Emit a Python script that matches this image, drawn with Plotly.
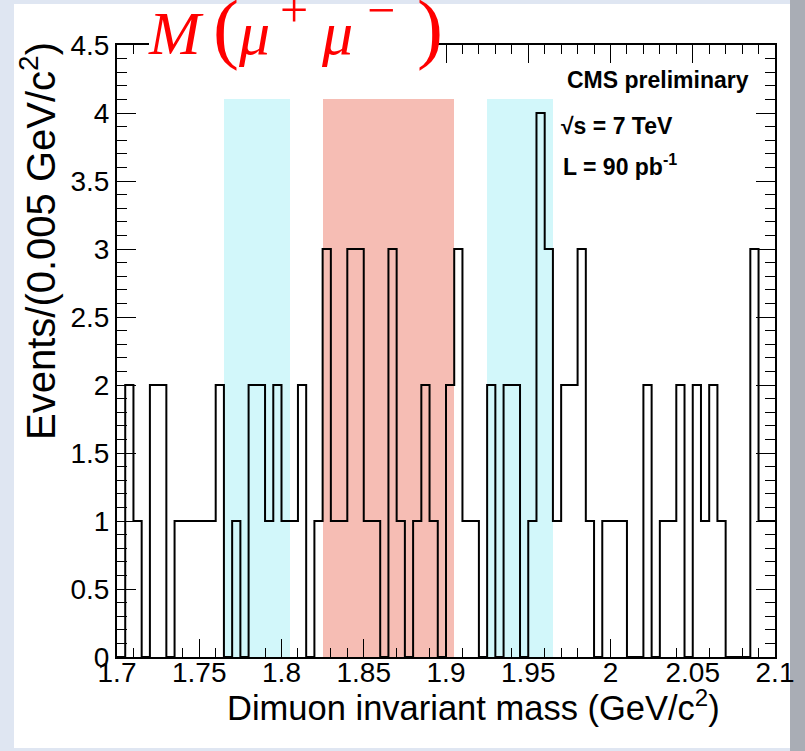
import plotly.graph_objects as go

# ---------------- data ----------------
x_min, x_max, bin_width = 1.7, 2.1, 0.005
counts = [0, 2, 1, 0, 2, 2, 0, 1, 1, 1,
          1, 1, 2, 0, 1, 0, 2, 2, 1, 2,
          1, 1, 2, 0, 1, 3, 1, 1, 3, 3,
          1, 1, 0, 3, 1, 0, 1, 2, 1, 0,
          2, 3, 1, 1, 0, 2, 0, 2, 2, 0,
          1, 4, 3, 1, 2, 2, 3, 1, 0, 1,
          1, 1, 0, 0, 2, 0, 1, 1, 2, 0,
          2, 1, 2, 1, 0, 0, 0, 3, 1, 1]

# sideband / signal windows (GeV/c^2)
band_lo = [1.765, 1.825, 1.925]
band_hi = [1.805, 1.905, 1.965]
band_kind = ["side", "signal", "side"]
band_height = 4.1

x_tick_vals = [1.7, 1.75, 1.8, 1.85, 1.9, 1.95, 2.0, 2.05, 2.1]
x_tick_text = ["1.7", "1.75", "1.8", "1.85", "1.9", "1.95", "2", "2.05", "2.1"]
y_tick_vals = [0, 0.5, 1, 1.5, 2, 2.5, 3, 3.5, 4, 4.5]
y_tick_text = ["0", "0.5", "1", "1.5", "2", "2.5", "3", "3.5", "4", "4.5"]

# ---------------- layout geometry (pixels) ----------------
W, H = 805, 751
L, R, T, B = 117, 775, 45, 657          # plot frame edges in px


def px(xp):
    return (xp - L) / (R - L)


def py(yp):
    return (B - yp) / (B - T)


edges = [x_min + i * bin_width for i in range(len(counts) + 1)]
step_x = edges
step_y = counts + [counts[-1]]

band_colors = {"side": "#d2f7fa", "signal": "#f6bdb4"}

fig = go.Figure()

for lo, hi, kind in zip(band_lo, band_hi, band_kind):
    fig.add_trace(go.Bar(
        x=[(lo + hi) / 2], y=[band_height], width=[hi - lo],
        marker=dict(color=band_colors[kind], line=dict(width=0)),
        showlegend=False, hoverinfo="skip"))

fig.add_trace(go.Scatter(
    x=step_x, y=step_y, mode="lines", line=dict(color="black", width=2, shape="hv"),
    showlegend=False, hoverinfo="skip", cliponaxis=True))

sans = "Liberation Sans, Arial, Helvetica, sans-serif"
serif = "Liberation Serif, serif"

fig.update_layout(
    width=W, height=H,
    margin=dict(l=L, r=W - R, t=T, b=H - B, pad=0),
    paper_bgcolor="#dfe6f2",
    plot_bgcolor="white",
    barmode="overlay",
    bargap=0,
    font=dict(family=sans, color="black"),
    xaxis=dict(
        range=[x_min, x_max], showgrid=False, zeroline=False,
        showline=True, linecolor="black", linewidth=2, mirror="ticks",
        ticks="inside", ticklen=18, tickwidth=1.2, tickcolor="black",
        tickmode="array", tickvals=x_tick_vals, ticktext=x_tick_text,
        tickfont=dict(size=28, family=sans),
        ticklabelstandoff=-11,
        minor=dict(tickmode="linear", tick0=x_min, dtick=0.01, ticks="inside",
                   ticklen=9, tickwidth=1.2, tickcolor="black", showgrid=False),
    ),
    yaxis=dict(
        range=[0, 4.5], showgrid=False, zeroline=False,
        showline=True, linecolor="black", linewidth=2, mirror="ticks",
        ticks="inside", ticklen=19, tickwidth=1.2, tickcolor="black",
        tickmode="array", tickvals=y_tick_vals, ticktext=y_tick_text,
        tickfont=dict(size=28, family=sans),
        ticklabelstandoff=0,
        minor=dict(tickmode="linear", tick0=0, dtick=0.1, ticks="inside",
                   ticklen=10, tickwidth=1.2, tickcolor="black", showgrid=False),
    ),
)

# page panel (white slide area) and grey right edge
fig.add_shape(type="rect", xref="paper", yref="paper", layer="below",
              x0=px(14), x1=px(790), y0=py(748), y1=py(4),
              fillcolor="white", line=dict(width=0))
fig.add_shape(type="rect", xref="paper", yref="paper", layer="below",
              x0=px(790), x1=px(W), y0=py(H), y1=py(0),
              fillcolor="#a9adb5", line=dict(width=0))
# white patch hiding the top frame behind the title
fig.add_shape(type="rect", xref="paper", yref="paper", layer="above",
              x0=px(149), x1=px(436), y0=py(68), y1=py(5),
              fillcolor="white", line=dict(width=0))

# axis titles
fig.add_annotation(xref="paper", yref="paper", x=px(722), y=py(705),
                   xanchor="right", yanchor="middle", showarrow=False,
                   text="Dimuon invariant mass (GeV/c<sup>2</sup>)",
                   font=dict(size=34.5, family=sans))
fig.add_annotation(xref="paper", yref="paper", x=px(38), y=py(40),
                   xanchor="center", yanchor="top", showarrow=False, textangle=-90,
                   text="Events/(0.005 GeV/c<sup>2</sup>)",
                   font=dict(size=40, family=sans))

# red title  M(mu+ mu-)
big = "<span style='font-size:78px'>"
gap = "\u2002\u00a0\u200a"
title_txt = ("<i>M</i>\u2009" + big + "(</span><i>\u03bc</i>" + gap +
             "<i>\u03bc</i>" + gap + "\u2009" + big + ")</span>")
fig.add_annotation(xref="paper", yref="paper", x=px(146), y=py(27),
                   xanchor="left", yanchor="middle", showarrow=False,
                   text=title_txt,
                   font=dict(size=62, family=serif, color="#ff0000"))
for sign, xc in [("+", 294), ("\u2212", 381)]:
    fig.add_annotation(xref="paper", yref="paper", x=px(xc), y=py(10),
                       xanchor="center", yanchor="middle", showarrow=False,
                       text=sign, font=dict(size=50, family=serif, color="#ff0000"))

# CMS labels
for txt, xl, yc in [("<b>CMS preliminary</b>", 565, 80),
                    ("<b>\u221as = 7 TeV</b>", 559, 126),
                    ("<b>L = 90 pb<sup>-1</sup></b>", 561, 165)]:
    fig.add_annotation(xref="paper", yref="paper", x=px(xl),
                       y=py(yc), xanchor="left", yanchor="middle", showarrow=False,
                       text=txt, font=dict(size=23, family=sans))

fig.write_html("out.html")
